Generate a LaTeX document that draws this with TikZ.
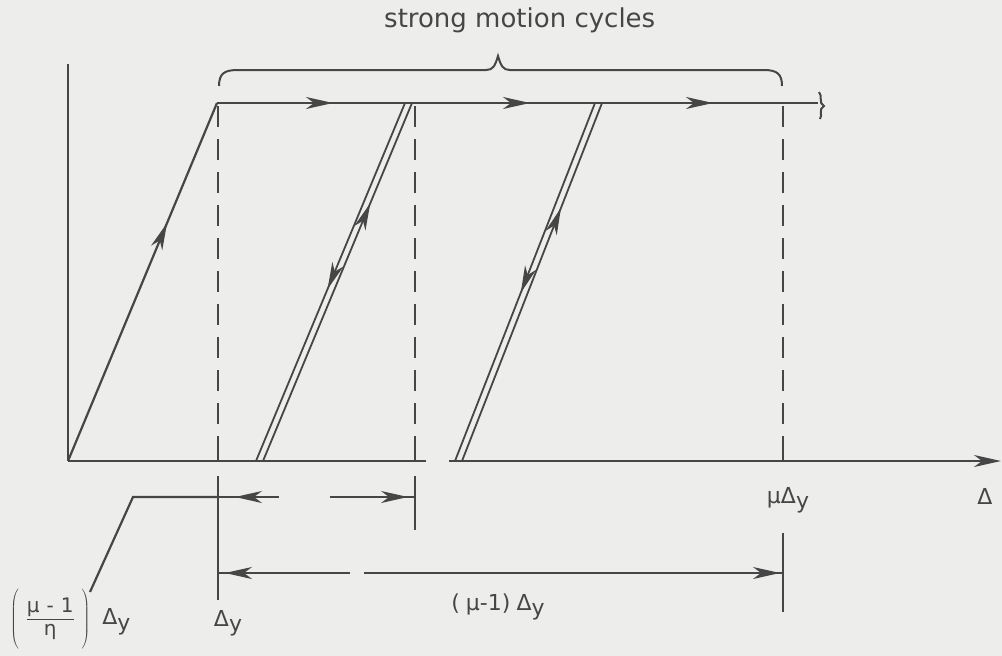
\documentclass[tikz,border=0pt]{standalone}
\usepackage{fontspec}
\setmainfont{DejaVu Sans}
\usetikzlibrary{arrows.meta,decorations.markings}
\definecolor{ink}{RGB}{70,70,70}
\definecolor{paper}{RGB}{237,237,235}
\newcommand{\Dy}{Δ\raisebox{-0.45ex}{y}}
\tikzset{
  bigtip/.tip={Stealth[length=27pt,width=12pt,inset=8pt]},
  ln/.style={draw=ink, line width=2.2pt},
  dsh/.style={draw=ink, line width=2.2pt, dash pattern=on 21pt off 12pt},
  arrowat/.style={postaction={decorate},decoration={markings,mark=at position #1 with {\arrow{bigtip}}}},
  lbl/.style={text=ink, font=\fontsize{22}{26}\selectfont, inner sep=0pt},
}
\begin{document}
\begin{tikzpicture}[x=1pt,y=-1pt]
\fill[paper] (0,0) rectangle (1002,656);
\useasboundingbox (0,0) rectangle (1002,656);

% key coordinates
\coordinate (O) at (68,461);
\coordinate (Ytop) at (68,64);
\coordinate (Xg1) at (426,461);
\coordinate (Xg2) at (449,461);
\coordinate (Xend) at (1001,461);
\coordinate (Y1) at (217,103);
\coordinate (Tend) at (818,103);

% axes
\draw[ln] (O) -- (Ytop);
\draw[ln] (O) -- (Xg1);
\draw[ln,-{bigtip}] (Xg2) -- (Xend);

% initial loading
\draw[ln, arrowat=0.665] (O) -- (Y1);

% top plateau
\draw[ln, postaction={decorate}, decoration={markings,
  mark=at position 116pt with {\arrow{bigtip}},
  mark=at position 313pt with {\arrow{bigtip}},
  mark=at position 496pt with {\arrow{bigtip}}}] (Y1) -- (Tend);
\coordinate (Sq) at (820,119);
\draw[ln, line width=2pt] (819,92) .. controls (823,96) and (818,103) .. (824,106) .. controls (818,109) and (823,115) .. (Sq);

% vertical reference lines
\coordinate (V1t) at (218,106); \coordinate (V1m) at (218,443);
\coordinate (V1a) at (218,461); \coordinate (V1b) at (218,476); \coordinate (V1c) at (218,600);
\coordinate (V2t) at (415,106); \coordinate (V2m) at (415,443);
\coordinate (V2a) at (415,461); \coordinate (V2b) at (415,476); \coordinate (V2c) at (415,530);
\coordinate (V3t) at (783,106); \coordinate (V3m) at (783,443);
\coordinate (V3a) at (783,461); \coordinate (V3b) at (783,533); \coordinate (V3c) at (783,612);
\draw[dsh] (V1t) -- (V1m); \draw[ln] (V1m) -- (V1a); \draw[ln] (V1b) -- (V1c);
\draw[dsh] (V2t) -- (V2m); \draw[ln] (V2m) -- (V2a); \draw[ln] (V2b) -- (V2c);
\draw[dsh] (V3t) -- (V3m); \draw[ln] (V3m) -- (V3a); \draw[ln] (V3b) -- (V3c);

% unloading / reloading cycles
\coordinate (A1b) at (256,461); \coordinate (A1t) at (405,103);
\coordinate (A2b) at (263,461); \coordinate (A2t) at (412,103);
\draw[ln, line width=1.8pt, arrowat=0.52] (A1t) -- (A1b);
\draw[ln, line width=1.8pt, arrowat=0.72] (A2b) -- (A2t);
\coordinate (B1b) at (455,461); \coordinate (B1t) at (595,103);
\coordinate (B2b) at (462,461); \coordinate (B2t) at (602,103);
\draw[ln, line width=1.8pt, arrowat=0.53] (B1t) -- (B1b);
\draw[ln, line width=1.8pt, arrowat=0.707] (B2b) -- (B2t);

% brace and title
\draw[ln, line width=2pt] (219,86) .. controls (219,73) and (225,70) .. (238,70) -- (486,70)
  .. controls (493,70) and (495,66) .. (498,56) .. controls (501,66) and (503,70) .. (510,70)
  -- (764,70) .. controls (777,70) and (782,74) .. (782,86);
\node[anchor=base west, text=ink, font=\fontsize{26}{30}\selectfont, inner sep=0pt] (title) at (384,27) {strong motion cycles};

% first dimension line with leader
\coordinate (Lp) at (90,592); \coordinate (Lk) at (133,497);
\coordinate (M1a) at (218,497); \coordinate (M1g) at (279,497);
\coordinate (M1h) at (330,497); \coordinate (M1b) at (415,497);
\draw[ln] (Lp) -- (Lk) -- (M1a);
\draw[ln, arrowat=44pt] (M1g) -- (M1a);
\draw[ln, arrowat=78pt] (M1h) -- (M1b);

% second dimension line
\coordinate (M2a) at (218,573); \coordinate (M2g) at (350,573);
\coordinate (M2h) at (364,573); \coordinate (M2b) at (783,573);
\draw[ln, arrowat=125pt] (M2g) -- (M2a);
\draw[ln, arrowat=416pt] (M2h) -- (M2b);

% labels
\node[lbl] (dy) at (228,623) {\Dy};
\node[lbl] (mudy) at (788,500) {μ\Dy};
\node[lbl] (delta) at (985,496) {Δ};
\node[lbl] (mum1) at (498,607) {(\;μ-1)\;\Dy};
\node[lbl, anchor=west] (frac) at (10,620) {$\left(\vrule height 32pt depth 26pt width 0pt\mbox{\hspace{8pt}\fontsize{20}{23}\selectfont\begin{tabular}{@{}c@{}}μ\hspace{7pt}-\hspace{7pt}1\\[-1pt]\hline η\end{tabular}\hspace{8pt}}\right)$\hspace{12pt}\Dy};
\end{tikzpicture}
\end{document}
